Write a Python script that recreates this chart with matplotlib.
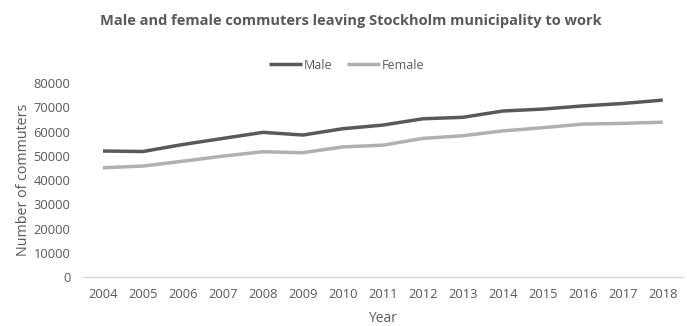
import matplotlib
matplotlib.use("Agg")
import matplotlib.pyplot as plt

years = ["2004", "2005", "2006", "2007", "2008", "2009", "2010", "2011",
         "2012", "2013", "2014", "2015", "2016", "2017", "2018"]
male = [52000, 51800, 54700, 57200, 59700, 58600, 61200, 62700,
        65300, 65900, 68500, 69300, 70600, 71600, 73000]
female = [45100, 45800, 47800, 49900, 51700, 51300, 53700, 54400,
          57200, 58300, 60300, 61600, 63100, 63400, 63900]
yticks = [0, 10000, 20000, 30000, 40000, 50000, 60000, 70000, 80000]

plt.rcParams['font.family'] = ['Open Sans', 'DejaVu Sans']
text_col = '#595959'

fig = plt.figure(figsize=(6.87, 3.26), dpi=100)
ax = fig.add_axes([0.1208, 0.150, 0.873, 0.595])

x = list(range(len(years)))
ax.plot(x, male, color='#595959', lw=2.5, label='Male', solid_capstyle='butt')
ax.plot(x, female, color='#b0b0b0', lw=2.5, label='Female', solid_capstyle='butt')

ax.set_xlim(-0.5, len(years) - 0.5)
ax.set_ylim(0, 80000)
ax.set_yticks(yticks)
ax.set_yticklabels([str(v) for v in yticks])
ax.set_xticks(x)
ax.set_xticklabels(years)
ax.tick_params(axis='both', length=0, labelsize=9.3, colors=text_col)
ax.tick_params(axis='y', pad=9)
ax.tick_params(axis='x', pad=8)
for s in ['top', 'right', 'left']:
    ax.spines[s].set_visible(False)
ax.spines['bottom'].set_color('#d9d9d9')
ax.spines['bottom'].set_linewidth(1)

ax.set_xlabel('Year', fontsize=10, color=text_col, labelpad=7)
ax.set_ylabel('Number of commuters', fontsize=10.3, color=text_col, labelpad=2)

fig.text(0.510, 0.935, 'Male and female commuters leaving Stockholm municipality to work',
         ha='center', va='center', fontsize=10.5, fontweight='bold', color=text_col)

leg = fig.legend(loc='center', bbox_to_anchor=(0.505, 0.80), ncol=2, frameon=False,
                 fontsize=9, handlelength=2.6, handletextpad=0.15, columnspacing=1.2)
for t in leg.get_texts():
    t.set_color(text_col)

fig.savefig('out.png', dpi=100)
